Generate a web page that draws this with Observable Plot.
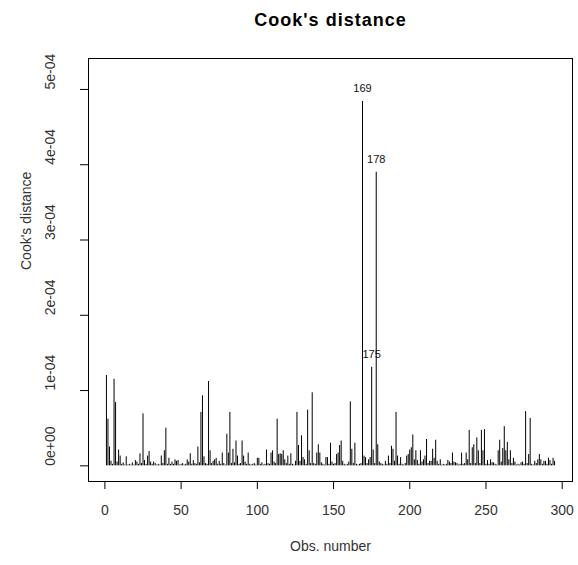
<!DOCTYPE html>
<html><head><meta charset="utf-8">
<script src="https://cdn.jsdelivr.net/npm/d3@7"></script>
<script src="https://cdn.jsdelivr.net/npm/@observablehq/plot@0.6"></script>
<style>body{margin:0;background:#fff}</style>
</head><body><div id="chart"></div>
<script>
// Cook's distance per observation, in units of 1e-04 (obs 1..295)
const cookE4 = [
  1.20,0.62,0.25,0.06,0.02,1.15,0.84,0.05,0.21,0.13,
  0.02,0.04,0.01,0.12,0.01,0.02,0.01,0.04,0.01,0.07,
  0.05,0.02,0.16,0.03,0.69,0.07,0.02,0.13,0.19,0.05,
  0.02,0.05,0.03,0.01,0.02,0.01,0.13,0.03,0.20,0.50,
  0.02,0.10,0.02,0.05,0.02,0.08,0.06,0.07,0.01,0.02,
  0.03,0.01,0.02,0.08,0.05,0.16,0.02,0.07,0.03,0.02,
  0.25,0.04,0.71,0.93,0.12,0.03,0.02,1.12,0.20,0.03,
  0.06,0.08,0.10,0.02,0.06,0.02,0.17,0.03,0.01,0.42,
  0.17,0.71,0.03,0.22,0.04,0.33,0.13,0.02,0.03,0.33,
  0.13,0.05,0.02,0.17,0.02,0.01,0.02,0.03,0.01,0.10,
  0.10,0.02,0.04,0.01,0.02,0.21,0.03,0.02,0.17,0.20,
  0.05,0.03,0.62,0.15,0.16,0.15,0.20,0.08,0.03,0.13,
  0.02,0.16,0.02,0.01,0.06,0.71,0.27,0.06,0.40,0.11,
  0.08,0.02,0.74,0.20,0.03,0.97,0.03,0.02,0.17,0.28,
  0.17,0.04,0.02,0.01,0.11,0.11,0.02,0.30,0.05,0.02,
  0.03,0.15,0.17,0.27,0.33,0.06,0.02,0.01,0.02,0.05,
  0.85,0.22,0.03,0.30,0.02,0.01,0.02,0.03,4.84,0.13,
  0.11,0.03,0.08,0.11,1.31,0.21,0.03,3.90,0.28,0.05,
  0.03,0.02,0.01,0.06,0.02,0.13,0.03,0.26,0.22,0.06,
  0.71,0.13,0.02,0.11,0.02,0.01,0.03,0.13,0.15,0.21,
  0.24,0.41,0.08,0.20,0.07,0.02,0.20,0.05,0.08,0.13,
  0.35,0.03,0.06,0.06,0.22,0.10,0.34,0.06,0.02,0.08,
  0.01,0.02,0.01,0.02,0.07,0.05,0.03,0.17,0.05,0.04,
  0.03,0.01,0.02,0.17,0.02,0.03,0.17,0.08,0.47,0.03,
  0.24,0.28,0.03,0.37,0.20,0.03,0.47,0.20,0.48,0.02,
  0.07,0.02,0.08,0.04,0.04,0.02,0.01,0.20,0.34,0.05,
  0.23,0.52,0.20,0.31,0.08,0.20,0.03,0.10,0.05,0.01,
  0.02,0.01,0.04,0.05,0.02,0.72,0.03,0.15,0.63,0.02,
  0.01,0.06,0.03,0.08,0.15,0.08,0.02,0.06,0.06,0.02,
  0.10,0.07,0.02,0.10,0.06
];
const labelledObs = [169, 178, 175];
const xTicks = [0, 50, 100, 150, 200, 250, 300];
const yTicks = [0, 1e-4, 2e-4, 3e-4, 4e-4, 5e-4];
const yTickLabels = ["0e+00", "1e-04", "2e-04", "3e-04", "4e-04", "5e-04"];
const titleText = "Cook's distance";
const xLabelText = "Obs. number";
const yLabelText = "Cook's distance";

const data = cookE4.map((v, i) => ({obs: i + 1, cook: v * 1e-4}));
const n = data.length;
const ymx = d3.max(data, d => d.cook) * 1.075;
const xPad = 0.04 * (n - 1), yPad = 0.04 * ymx;
const font = "'Liberation Sans', Arial, Helvetica, sans-serif";

const chart = Plot.plot({
  width: 578, height: 565,
  marginLeft: 88, marginRight: 6, marginTop: 58, marginBottom: 84,
  style: {fontFamily: font, fontSize: "13px", color: "#333", background: "#fff", overflow: "visible"},
  x: {domain: [1 - xPad, n + xPad]},
  y: {domain: [-yPad, ymx + yPad]},
  marks: [
    Plot.ruleX(data, {x: "obs", y1: 0, y2: "cook", stroke: "#000", strokeWidth: 1}),
    Plot.frame({stroke: "#000"}),
    Plot.axisX({ticks: xTicks, tickSize: 8, tickPadding: 16, fontSize: 14, label: null, tickFormat: d => String(d), stroke: "#000"}),
    Plot.axisY({ticks: yTicks, tickSize: 8, tickFormat: () => "", label: null, stroke: "#000"}),
    Plot.text(yTicks, {y: d => d, text: (d, i) => yTickLabels[i], frameAnchor: "left", dx: -38, rotate: -90, fontSize: 14, fill: "#333"}),
    Plot.text(data.filter(d => labelledObs.includes(d.obs)), {x: "obs", y: "cook", text: d => String(d.obs), dy: -13, fontSize: 11, fill: "#111"}),
    Plot.text([titleText], {text: d => d, frameAnchor: "top", dy: -45, fontSize: 18, fontWeight: "bold", fill: "#000"}),
    Plot.text([xLabelText], {text: d => d, frameAnchor: "bottom", dy: 69, fontSize: 14, fill: "#333"}),
    Plot.text([yLabelText], {text: d => d, frameAnchor: "left", dx: -62, rotate: -90, fontSize: 14, fill: "#333"})
  ]
});
d3.select(chart).selectAll("g[font-weight=bold] text").attr("letter-spacing", "1px");
document.getElementById("chart").append(chart);
</script>
</body></html>
